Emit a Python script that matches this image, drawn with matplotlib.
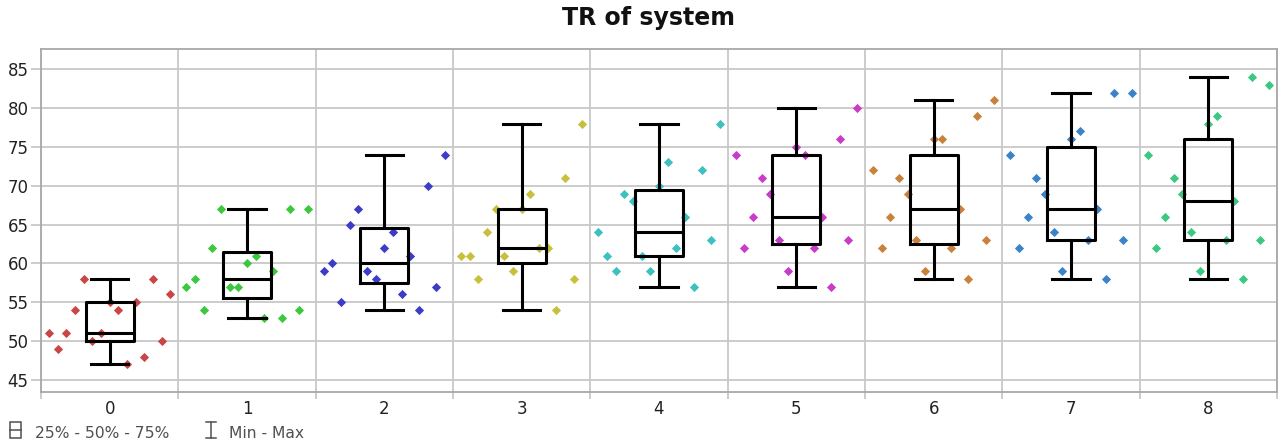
import matplotlib
matplotlib.use("Agg")
import matplotlib.pyplot as plt
from matplotlib.lines import Line2D
from matplotlib.patches import Rectangle
import numpy as np

# values, in left-to-right order of the jittered points
categories = ["0", "1", "2", "3", "4", "5", "6", "7", "8"]
tr_0 = [51, 49, 51, 54, 58, 50, 51, 55, 54, 47, 55, 48, 58, 50, 56]
tr_1 = [57, 58, 54, 62, 67, 57, 57, 60, 61, 53, 59, 53, 67, 54, 67]
tr_2 = [59, 60, 55, 65, 67, 59, 58, 62, 64, 56, 61, 54, 70, 57, 74]
tr_3 = [61, 61, 58, 64, 67, 61, 59, 67, 69, 62, 62, 54, 71, 58, 78]
tr_4 = [64, 61, 59, 69, 68, 61, 59, 70, 73, 62, 66, 57, 72, 63, 78]
tr_5 = [74, 62, 66, 71, 69, 63, 59, 75, 74, 62, 66, 57, 76, 63, 80]
tr_6 = [72, 62, 66, 71, 69, 63, 59, 76, 76, 62, 67, 58, 79, 63, 81]
tr_7 = [74, 62, 66, 71, 69, 64, 59, 76, 77, 63, 67, 58, 82, 63, 82]
tr_8 = [74, 62, 66, 71, 69, 64, 59, 78, 79, 63, 68, 58, 84, 63, 83]
all_tr = [tr_0, tr_1, tr_2, tr_3, tr_4, tr_5, tr_6, tr_7, tr_8]

colors = ["#c84646", "#3cc83c", "#3c3cc8", "#c8c03c", "#3cc0c0",
          "#c83cc8", "#c8823c", "#3c82c8", "#3cc882"]

W, H = 1283, 448
fig = plt.figure(figsize=(W / 100, H / 100), dpi=100)
ax = fig.add_axes([41 / W, 1 - 392 / H, (1277 - 41) / W, (392 - 49) / H])

grid_c = "#c8c8c8"
pos = np.arange(len(categories))

# jittered diamonds, spread evenly across each category
for i, vals in enumerate(all_tr):
    offs = (np.arange(len(vals)) - (len(vals) - 1) / 2) * 0.063
    ax.scatter(pos[i] + offs, vals, marker="D", s=22, color=colors[i],
               linewidths=0, zorder=2)

ax.boxplot(all_tr, positions=pos, widths=0.35, whis=(0, 100),
           showfliers=False, patch_artist=False, capwidths=0.27,
           boxprops=dict(color="black", linewidth=2.2),
           whiskerprops=dict(color="black", linewidth=2.2),
           capprops=dict(color="black", linewidth=2.2),
           medianprops=dict(color="black", linewidth=2.2),
           zorder=3)

ax.set_xlim(-0.5, len(categories) - 0.5)
ax.set_ylim(43.45, 87.6)
ax.set_yticks(range(45, 90, 5))
ax.set_xticks(pos)
ax.set_xticklabels(categories)
ax.set_xticks(np.arange(len(categories) + 1) - 0.5, minor=True)

ax.grid(axis="y", which="major", color=grid_c, linewidth=1.3, zorder=0)
ax.grid(axis="x", which="minor", color=grid_c, linewidth=1.3, zorder=0)
ax.set_axisbelow(True)

ax.tick_params(axis="x", which="major", length=0, labelsize=12, pad=6,
               labelcolor="#222222")
ax.tick_params(axis="x", which="minor", length=5, color=grid_c, width=1.3)
ax.tick_params(axis="y", length=7, color=grid_c, width=1.3, labelsize=12,
               pad=2, labelcolor="#222222")
for sp in ax.spines.values():
    sp.set_color("#a8a8a8")
    sp.set_linewidth(1.3)

fig.text(649 / W, 1 - 25 / H, "TR of system", ha="center", va="baseline",
         fontsize=17, fontweight="bold", color="#111111")

# legend strip at the bottom
leg_c = "#505050"
fig.add_artist(Rectangle((10 / W, 1 - 438 / H), 11 / W, 16 / H,
                         transform=fig.transFigure, fill=False,
                         edgecolor=leg_c, linewidth=1.1))
fig.add_artist(Line2D([10 / W, 21 / W], [1 - 430 / H, 1 - 430 / H],
                      transform=fig.transFigure, color=leg_c, linewidth=1.1))
fig.text(35 / W, 1 - 433 / H, "25% - 50% - 75%", ha="left", va="center",
         fontsize=11.2, color=leg_c)
fig.add_artist(Line2D([211 / W, 211 / W], [1 - 422 / H, 1 - 438 / H],
                      transform=fig.transFigure, color=leg_c, linewidth=1.1))
for yy in (422, 438):
    fig.add_artist(Line2D([206 / W, 216 / W], [1 - yy / H, 1 - yy / H],
                          transform=fig.transFigure, color=leg_c,
                          linewidth=1.1))
fig.text(229 / W, 1 - 433 / H, "Min - Max", ha="left", va="center",
         fontsize=11.2, color=leg_c)

fig.savefig("out.png", dpi=100)
